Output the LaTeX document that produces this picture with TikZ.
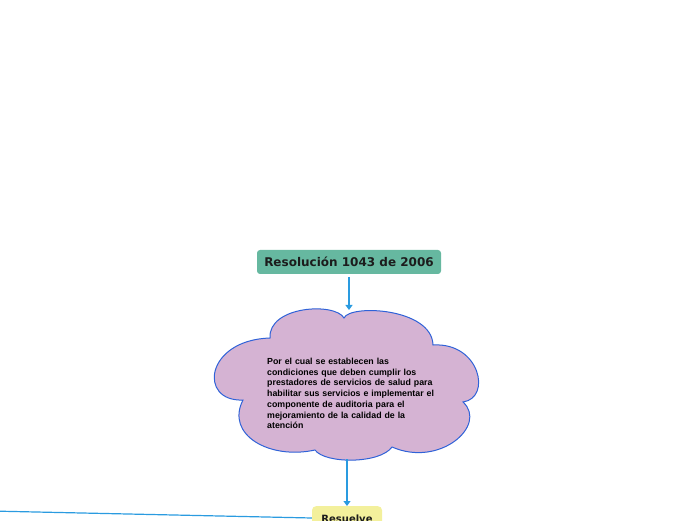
\documentclass[tikz,border=0pt]{standalone}
\usepackage{fontspec}
\setmainfont{Liberation Sans}
\newfontfamily\titlefont{DejaVu Sans}
\usetikzlibrary{arrows.meta}
\definecolor{tealbox}{HTML}{66B8A0}
\definecolor{cloudfill}{HTML}{D5B3D3}
\definecolor{cloudline}{HTML}{2F62D8}
\definecolor{conn}{HTML}{2A9BE0}
\definecolor{yellowbox}{HTML}{F3F09C}
\definecolor{darktext}{HTML}{1C1C1C}
\tikzset{
  conline/.style={draw=conn, line width=1.2pt},
  conarrow/.style={conline, -{Triangle[length=5pt,width=7pt]}},
  titlebox/.style={fill=tealbox, rounded corners=3pt, minimum width=184pt, minimum height=24pt, inner sep=0pt, text=darktext, font=\titlefont\bfseries\fontsize{12}{14}\selectfont},
  subbox/.style={fill=yellowbox, rounded corners=4pt, minimum width=70pt, minimum height=26pt, inner sep=0pt, text=darktext, font=\titlefont\bfseries\fontsize{10}{12}\selectfont},
  cloudtext/.style={inner sep=0pt, text width=190pt, align=left, font=\bfseries\fontsize{8.8}{10.7}\selectfont, text=black}
}
\begin{document}
\begin{tikzpicture}[x=1pt,y=1pt]
\useasboundingbox (0,0) rectangle (696,520);
\clip (0,0) rectangle (696,520);
% title
\node[titlebox] (title) at (349,258) {Resolución 1043 de 2006};
% cloud
\coordinate (J1) at (270,182);
\coordinate (J2) at (344,202);
\coordinate (J3) at (433,175);
\coordinate (J4) at (463,118);
\coordinate (J5) at (392,73);
\coordinate (J6) at (315,70);
\coordinate (J7) at (243,120);
\coordinate (ctop) at (349,210);
\coordinate (cbot) at (347,61);
\draw[fill=cloudfill, draw=cloudline, line width=1pt]
  (J1) .. controls (268,214) and (335,218) .. (J2)
  .. controls (350,216) and (432,212) .. (J3)
  .. controls (480,178) and (492,122) .. (J4)
  .. controls (488,95) and (440,52) .. (J5)
  .. controls (380,56) and (325,56) .. (J6)
  .. controls (270,60) and (225,85) .. (J7)
  .. controls (198,118) and (205,180) .. (J1) -- cycle;
\node[cloudtext, anchor=north west] (ctext) at (267,162) {Por el cual se establecen las\\condiciones que deben cumplir los\\prestadores de servicios de salud para\\habilitar sus servicios e implementar el\\componente de auditoria para el\\mejoramiento de la calidad de la\\atención};
% bottom box
\node[subbox, anchor=north] (res) at (347,14) {\raisebox{-7pt}{Resuelve}};
\coordinate (far) at (-10,9);
% connectors
\draw[conarrow] (title.south |- 0,243) -- (ctop);
\draw[conarrow] (cbot) -- (res.north);
\draw[conline] (res.west |- 0,2) -- (far);
\end{tikzpicture}
\end{document}
